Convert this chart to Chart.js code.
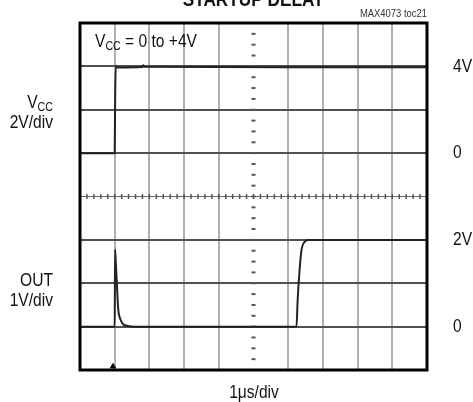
<!DOCTYPE html>
<html>
<head>
<meta charset="utf-8">
<script src="https://cdn.jsdelivr.net/npm/chart.js@4"></script>
<style>
  body { margin: 0; background: #fff; }
</style>
</head>
<body>
<canvas id="scope" width="473" height="402"></canvas>
<script>
// time in us (1us/div), volts
var vccTime = [0, 1.0, 1.01, 1.03, 1.07, 1.8, 1.82, 1.86, 6.2, 10];
var vccVolts = [0, 0, 2.0, 4.02, 3.95, 3.97, 4.05, 3.98, 3.96, 3.96];

var outTime = [0, 1.0, 1.01, 1.03, 1.06, 1.10, 1.17, 1.25, 1.35, 1.6, 6.24, 6.27, 6.34, 6.39, 6.48, 6.58, 10];
var outVolts = [0, 0, 1.78, 1.5, 1.04, 0.42, 0.16, 0.05, 0.02, 0, 0, 0.58, 1.43, 1.8, 1.96, 2.0, 2.0];

var triggerTime = [0.95];

// scope settings: volts/div and where the 0V level sits (in divisions from bottom)
var vccPerDiv = 2, vccZeroDiv = 5;
var outPerDiv = 1, outZeroDiv = 1;

var rightLabels = ['4V', '0', '2V', '0'];
var rightLabelDivs = [7, 5, 3, 1];

var FONT = '"Liberation Sans", Arial, sans-serif';
var NARROW = 0.82; // squeeze to look like a condensed face

function toPoints(ts, vs, perDiv, zero) {
  return ts.map(function (t, i) { return { x: t, y: zero + vs[i] / perDiv }; });
}

// draws condensed text, returns its drawn width
function narrowText(ctx, str, x, y, font, align) {
  ctx.font = font;
  var w = ctx.measureText(str).width * NARROW;
  var sx = x;
  if (align === 'right') sx = x - w;
  else if (align === 'center') sx = x - w / 2;
  ctx.save();
  ctx.textAlign = 'left';
  ctx.translate(sx, y);
  ctx.scale(NARROW, 1);
  ctx.fillText(str, 0, 0);
  ctx.restore();
  return w;
}

function textWidth(ctx, str, font) {
  ctx.font = font;
  return ctx.measureText(str).width * NARROW;
}

var scopeDecor = {
  id: 'scopeDecor',
  beforeDatasetsDraw: function (chart) {
    var ctx = chart.ctx, x = chart.scales.x, y = chart.scales.y;
    ctx.save();
    ctx.strokeStyle = '#555';
    ctx.lineWidth = 1.5;
    // minor ticks along the centre lines
    var cy = y.getPixelForValue(4);
    for (var v = 0; v <= 10.001; v += 0.2) {
      var px = x.getPixelForValue(v);
      ctx.beginPath(); ctx.moveTo(px, cy - 2.5); ctx.lineTo(px, cy + 2.5); ctx.stroke();
    }
    var cx = x.getPixelForValue(5);
    ctx.lineWidth = 2;
    for (var w = 0; w <= 8.001; w += 0.25) {
      var py = y.getPixelForValue(w);
      ctx.beginPath(); ctx.moveTo(cx - 2, py); ctx.lineTo(cx + 2, py); ctx.stroke();
    }
    ctx.restore();
  },
  afterDraw: function (chart) {
    var ctx = chart.ctx, a = chart.chartArea, y = chart.scales.y;
    var big = '19px ' + FONT, sub = '13px ' + FONT;
    ctx.save();
    // frame
    ctx.strokeStyle = '#000';
    ctx.lineWidth = 3;
    ctx.strokeRect(a.left, a.top, a.right - a.left, a.bottom - a.top);

    ctx.fillStyle = '#111';
    ctx.textBaseline = 'alphabetic';

    narrowText(ctx, 'STARTUP DELAY', (a.left + a.right) / 2, 6, 'bold 21px ' + FONT, 'center');

    ctx.fillStyle = '#333';
    narrowText(ctx, 'MAX4073 toc21', a.right, 17, '11.5px ' + FONT, 'right');
    ctx.fillStyle = '#111';

    // Vcc = 0 to +4V inside the plot
    var x0 = 95;
    x0 += narrowText(ctx, 'V', x0, 47, big, 'left');
    x0 += narrowText(ctx, 'CC', x0, 50, sub, 'left');
    narrowText(ctx, ' = 0 to +4V', x0, 47, big, 'left');

    // left channel labels, right aligned
    var wcc = textWidth(ctx, 'CC', sub);
    narrowText(ctx, 'CC', 53, 111, sub, 'right');
    narrowText(ctx, 'V', 53 - wcc, 108, big, 'right');
    narrowText(ctx, '2V/div', 53, 128, big, 'right');
    narrowText(ctx, 'OUT', 53, 286, big, 'right');
    narrowText(ctx, '1V/div', 53, 306, big, 'right');

    // right level labels
    ctx.textBaseline = 'middle';
    rightLabels.forEach(function (t, i) {
      narrowText(ctx, t, 453, y.getPixelForValue(rightLabelDivs[i]), big, 'left');
    });

    ctx.textBaseline = 'alphabetic';
    narrowText(ctx, '1\u03bcs/div', 254, 398, big, 'center');
    ctx.restore();
  }
};

new Chart(document.getElementById('scope'), {
  type: 'line',
  data: {
    datasets: [{
      label: 'VCC',
      data: toPoints(vccTime, vccVolts, vccPerDiv, vccZeroDiv),
      borderColor: '#222',
      borderWidth: 2,
      pointRadius: 0,
      cubicInterpolationMode: 'monotone'
    }, {
      label: 'OUT',
      data: toPoints(outTime, outVolts, outPerDiv, outZeroDiv),
      borderColor: '#222',
      borderWidth: 2,
      pointRadius: 0,
      cubicInterpolationMode: 'monotone'
    }, {
      label: 'trigger',
      data: triggerTime.map(function (t) { return { x: t, y: 0.08 }; }),
      showLine: false,
      pointStyle: 'triangle',
      pointRadius: 3,
      backgroundColor: '#000',
      borderColor: '#000'
    }]
  },
  options: {
    responsive: false,
    animation: false,
    layout: { padding: { left: 80, right: 46, top: 23, bottom: 32 } },
    plugins: { legend: { display: false }, tooltip: { enabled: false } },
    scales: {
      x: {
        type: 'linear', min: 0, max: 10,
        ticks: { display: false, stepSize: 1 },
        border: { display: false },
        grid: {
          drawTicks: false,
          lineWidth: 2,
          color: function (c) {
            var v = c.tick.value;
            return (v === 5 || v === 0 || v === 10) ? 'rgba(0,0,0,0)' : '#b0b0b0';
          }
        }
      },
      y: {
        min: 0, max: 8,
        ticks: { display: false, stepSize: 1 },
        border: { display: false },
        grid: {
          drawTicks: false,
          lineWidth: function (c) { return c.tick.value === 4 ? 1 : 2; },
          color: function (c) {
            var v = c.tick.value;
            return (v === 0 || v === 8) ? 'rgba(0,0,0,0)' : (v === 4 ? '#666' : '#505050');
          }
        }
      }
    }
  },
  plugins: [scopeDecor]
});
</script>
</body>
</html>
